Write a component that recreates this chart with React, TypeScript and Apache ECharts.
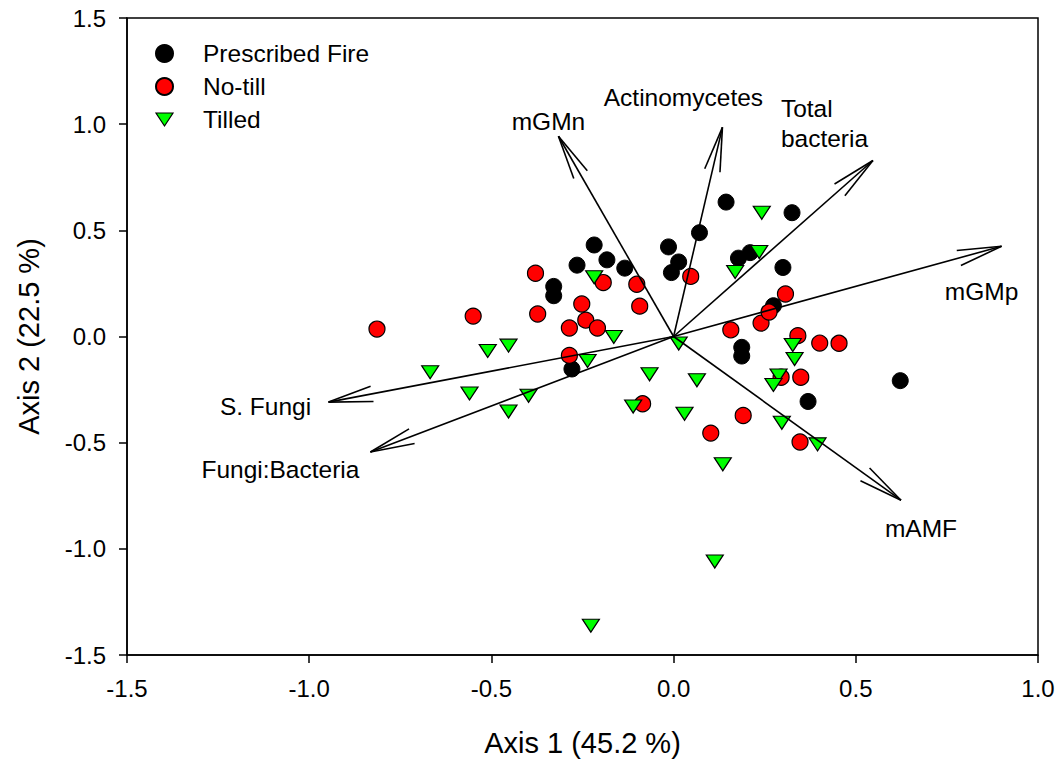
import React, { useEffect, useRef } from "react";
import * as echarts from "echarts";

// Sample scores (ordination axis 1 / axis 2)
const fireX = [0.144, 0.325, 0.071, -0.014, 0.014, -0.006, -0.218, -0.183, -0.134, -0.265, -0.329, -0.329, 0.178, 0.21, 0.3, 0.274, 0.187, 0.187, 0.622, 0.369, -0.279];
const fireY = [0.633, 0.583, 0.489, 0.422, 0.351, 0.301, 0.431, 0.361, 0.322, 0.336, 0.236, 0.192, 0.369, 0.395, 0.325, 0.145, -0.051, -0.092, -0.208, -0.306, -0.153];

const noTillX = [-0.814, -0.55, -0.379, -0.373, -0.252, -0.241, -0.209, -0.286, -0.193, -0.101, -0.093, -0.286, -0.085, 0.047, 0.157, 0.24, 0.262, 0.307, 0.341, 0.401, 0.454, 0.295, 0.349, 0.191, 0.102, 0.347];
const noTillY = [0.035, 0.096, 0.298, 0.106, 0.153, 0.077, 0.04, 0.04, 0.254, 0.246, 0.143, -0.089, -0.317, 0.283, 0.031, 0.063, 0.115, 0.2, 0.004, -0.031, -0.032, -0.192, -0.192, -0.372, -0.455, -0.497];

const tilledX = [0.242, 0.235, 0.169, -0.218, -0.164, 0.014, 0.327, 0.332, -0.453, -0.51, -0.668, -0.236, -0.56, -0.398, -0.453, -0.066, -0.111, 0.064, 0.03, 0.288, 0.274, 0.297, 0.395, 0.135, 0.113, -0.227];
const tilledY = [0.583, 0.398, 0.304, 0.279, -0.002, -0.033, -0.04, -0.106, -0.043, -0.068, -0.168, -0.115, -0.268, -0.279, -0.353, -0.178, -0.33, -0.206, -0.364, -0.184, -0.228, -0.406, -0.508, -0.602, -1.06, -1.362];

// Biplot vectors
const vectorNames = ["mGMn", "Actinomycetes", "Total\nbacteria", "mGMp", "mAMF", "S. Fungi", "Fungi:Bacteria"];
const vectorX = [-0.316, 0.134, 0.547, 0.9, 0.624, -0.947, -0.832];
const vectorY = [0.943, 0.985, 0.829, 0.425, -0.771, -0.309, -0.544];

// Axis ticks
const axisMin = -1.5;
const xAxisMax = 1.0;
const yAxisMax = 1.5;
const tickStep = 0.5;

// label offsets from arrow tip (pixels) and alignment
const labelDx = [-10, -39, -92, -20, 20, -63, -90];
const labelDy = [-15, -30, -37, 45, 28, 4, 17];
const labelAlign = ["center", "center", "left", "center", "center", "center", "center"];

const FONT = "'Liberation Sans', Arial, sans-serif";

export default function App() {
  const ref = useRef<HTMLDivElement>(null);
  useEffect(() => {
    if (!ref.current) return;
    const chart = echarts.init(ref.current, null, { renderer: "svg" });
    const zip = (xs: number[], ys: number[]) => xs.map((x, i) => [x, ys[i]]);
    const vecData = vectorX.map((x, i) => [x, vectorY[i], i]);
    const axisCommon = {
      axisLine: { show: true, onZero: false, lineStyle: { color: "#000", width: 1.5 } },
      axisTick: { show: true, inside: false, length: 8, lineStyle: { color: "#000", width: 1.5 } },
      axisLabel: { fontSize: 24, color: "#000", margin: 21, fontFamily: FONT, formatter: (v: number) => v.toFixed(1) },
      splitLine: { show: false },
      nameLocation: "middle",
      nameTextStyle: { fontSize: 29, color: "#000", fontFamily: FONT },
    };
    const option: any = {
      animation: false,
      backgroundColor: "#fff",
      textStyle: { fontFamily: FONT },
      grid: {
        left: 127,
        top: 18,
        width: 911,
        height: 639,
        show: true,
        borderColor: "#000",
        borderWidth: 1.5,
      },
      legend: {
        orient: "vertical",
        left: 150,
        top: 36,
        itemWidth: 17,
        itemHeight: 17,
        itemGap: 8,
        data: [
          { name: "Prescribed Fire" },
          { name: "No-till" },
          { name: "Tilled", icon: "path://M0,0L17,0L8.5,13Z", itemStyle: { color: "#00ff00", borderColor: "#000", borderWidth: 1.2 } },
        ],
        textStyle: { fontSize: 24.5, color: "#000", fontFamily: FONT, padding: [0, 0, 0, 25] },
      },
      xAxis: {
        type: "value",
        min: axisMin,
        max: xAxisMax,
        interval: tickStep,
        name: "Axis 1 (45.2 %)",
        nameGap: 73,
        ...axisCommon,
      },
      yAxis: {
        type: "value",
        min: axisMin,
        max: yAxisMax,
        interval: tickStep,
        name: "Axis 2 (22.5 %)",
        nameGap: 84,
        ...axisCommon,
      },
      series: [
        {
          name: "Prescribed Fire",
          type: "scatter",
          symbol: "circle",
          symbolSize: 16,
          itemStyle: { color: "#000", borderColor: "#000", borderWidth: 1, opacity: 1 },
          data: zip(fireX, fireY),
          z: 2,
        },
        {
          name: "No-till",
          type: "scatter",
          symbol: "circle",
          symbolSize: 16,
          itemStyle: { color: "#ff0000", borderColor: "#000", borderWidth: 1.2, opacity: 1 },
          data: zip(noTillX, noTillY),
          z: 3,
        },
        {
          name: "Tilled",
          type: "scatter",
          symbol: "triangle",
          symbolRotate: 180,
          symbolSize: [17, 13],
          itemStyle: { color: "#00ff00", borderColor: "#000", borderWidth: 1.2, opacity: 1 },
          data: zip(tilledX, tilledY),
          z: 4,
        },
        {
          type: "custom",
          name: "vectors",
          z: 10,
          silent: true,
          data: vecData,
          renderItem: (params: any, api: any) => {
            const o = api.coord([0, 0]);
            const t = api.coord([api.value(0), api.value(1)]);
            const idx = api.value(2);
            const dx = o[0] - t[0];
            const dy = o[1] - t[1];
            const ang = Math.atan2(dy, dx);
            const L = 45;
            const h = (10 * Math.PI) / 180;
            const b1 = [t[0] + L * Math.cos(ang + h), t[1] + L * Math.sin(ang + h)];
            const b2 = [t[0] + L * Math.cos(ang - h), t[1] + L * Math.sin(ang - h)];
            const ls = { stroke: "#000", lineWidth: 1.6 };
            return {
              type: "group",
              children: [
                { type: "line", shape: { x1: o[0], y1: o[1], x2: t[0], y2: t[1] }, style: ls },
                { type: "line", shape: { x1: t[0], y1: t[1], x2: b1[0], y2: b1[1] }, style: ls },
                { type: "line", shape: { x1: t[0], y1: t[1], x2: b2[0], y2: b2[1] }, style: ls },
                {
                  type: "text",
                  x: t[0] + labelDx[idx],
                  y: t[1] + labelDy[idx],
                  style: {
                    text: vectorNames[idx],
                    fill: "#000",
                    font: `24.5px ${FONT}`,
                    align: labelAlign[idx],
                    verticalAlign: "middle",
                    lineHeight: 30,
                  },
                },
              ],
            };
          },
        },
      ],
    };
    chart.setOption(option);
    return () => chart.dispose();
  }, []);
  return (
    <div
      ref={ref}
      style={{ position: "fixed", left: 0, top: 0, width: 1060, height: 762, background: "#fff" }}
    />
  );
}
